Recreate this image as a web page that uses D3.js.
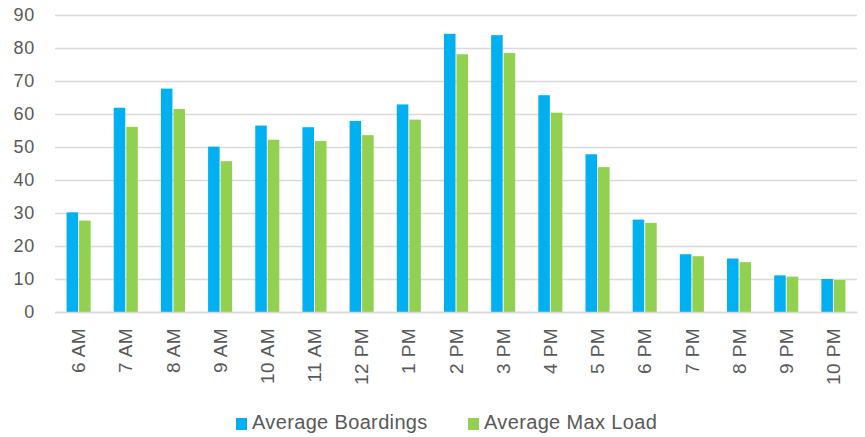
<!DOCTYPE html>
<html><head><meta charset="utf-8">
<script src="https://cdn.jsdelivr.net/npm/d3@7"></script>
<style>body{margin:0;background:#fff;}svg{display:block;font-family:"Liberation Sans",Arial,sans-serif;}</style>
</head><body><div id="chart"></div>
<script>
const categories = ["6 AM","7 AM","8 AM","9 AM","10 AM","11 AM","12 PM","1 PM","2 PM","3 PM","4 PM","5 PM","6 PM","7 PM","8 PM","9 PM","10 PM"];
const boardings = [30.2,61.9,67.7,50.1,56.5,56.0,57.9,62.9,84.3,83.9,65.7,47.8,28.0,17.5,16.2,11.1,10.0];
const maxLoad   = [27.7,56.1,61.5,45.7,52.2,51.8,53.6,58.3,78.1,78.5,60.4,43.9,27.0,16.9,15.1,10.7,9.7];
const seriesNames = ["Average Boardings","Average Max Load"];
const yTicks = [0,10,20,30,40,50,60,70,80,90];
const colors = ["#00B0F0","#92D050"];

const W=865,H=437;
const m={left:55,right:8,top:15,bottom:125};
const svg=d3.select("#chart").append("svg").attr("width",W).attr("height",H);
const x=d3.scaleBand().domain(categories).range([m.left,W-m.right]).paddingInner(0.49).paddingOuter(0.245);
const xs=d3.scaleBand().domain(seriesNames).range([0,x.bandwidth()]).paddingInner(0.08);
const y=d3.scaleLinear().domain([0,90]).range([H-m.bottom,m.top]);

// grid
const ya=svg.append("g").attr("transform",`translate(${m.left},0)`)
 .call(d3.axisLeft(y).tickValues(yTicks).tickSize(-(W-m.left-m.right)).tickPadding(20));
ya.select(".domain").remove();
ya.selectAll(".tick line").attr("stroke","#d9d9d9").attr("stroke-width",1.3);
ya.selectAll(".tick text").attr("fill","#595959").attr("font-size","18px")
 .attr("letter-spacing","0.8px").attr("font-family","Liberation Sans, Arial, sans-serif");

const data=[boardings,maxLoad];
const g=svg.append("g");
categories.forEach((c,i)=>{
  seriesNames.forEach((s,j)=>{
    g.append("rect").attr("x",x(c)+xs(s)).attr("width",xs.bandwidth())
     .attr("y",y(data[j][i])).attr("height",y(0)-y(data[j][i])).attr("fill",colors[j]);
  });
});

const xa=svg.append("g").attr("transform",`translate(0,${y(0)})`)
 .call(d3.axisBottom(x).tickSize(0).tickPadding(0));
xa.select(".domain").attr("stroke","#d9d9d9").attr("stroke-width",1.3);
xa.selectAll(".tick text").attr("fill","#595959").attr("font-size","19px")
 .attr("letter-spacing","0.4px")
 .attr("font-family","Liberation Sans, Arial, sans-serif")
 .attr("text-anchor","end").attr("dy","0.35em")
 .attr("transform","translate(0,16) rotate(-90)").attr("y",0).attr("x",0);

// legend
const leg=svg.append("g");
const lx=[236,468];
seriesNames.forEach((s,j)=>{
  leg.append("rect").attr("x",lx[j]).attr("y",418).attr("width",11).attr("height",12).attr("fill",colors[j]);
  leg.append("text").attr("x",lx[j]+16).attr("y",429).attr("fill","#595959").attr("font-size","20px")
   .attr("letter-spacing","0.35px").text(s);
});
</script></body></html>
